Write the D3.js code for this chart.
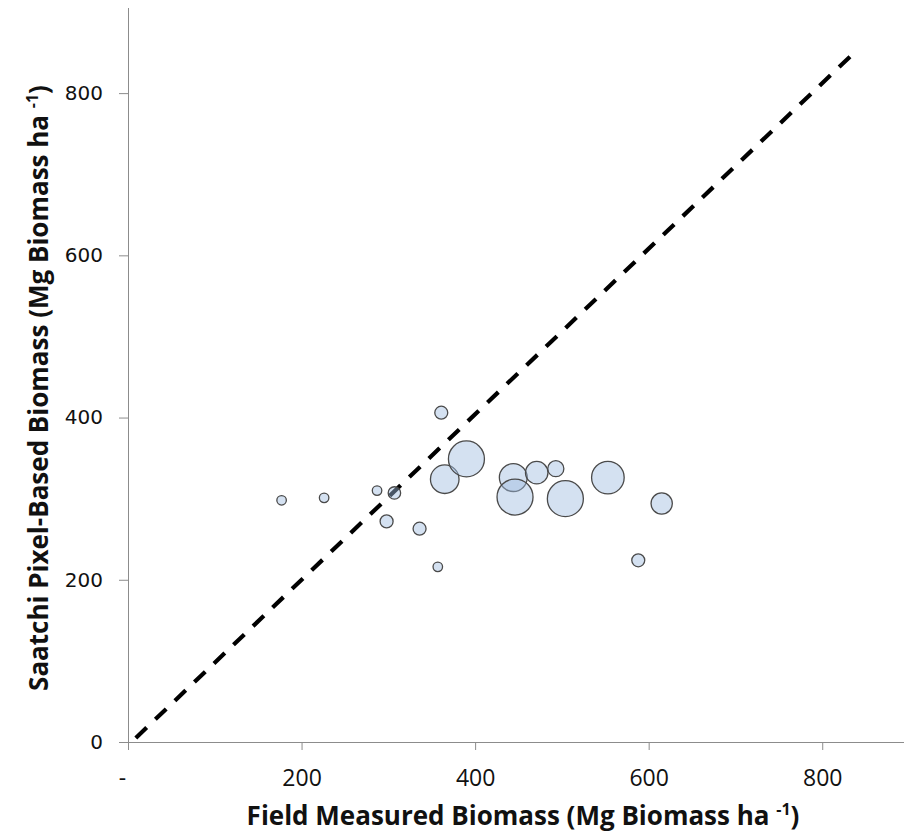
<!DOCTYPE html>
<html>
<head>
<meta charset="utf-8">
<script src="https://cdn.jsdelivr.net/npm/d3@7"></script>
<style>
  body { margin: 0; background: #fff; }
  svg { display: block; }
</style>
</head>
<body>
<script>
// field measured biomass (x), Saatchi pixel biomass (y), bubble size
const fieldBiomass = [177, 226, 287, 307, 298, 336, 357, 361, 365, 390, 444, 446, 471, 493, 504, 553, 615, 588];
const pixelBiomass = [298, 301, 310, 307, 272, 263, 216, 406, 324, 349, 326, 302, 332, 337, 300, 326, 294, 224];
const bubbleSize   = [7, 7, 7, 12, 13, 13, 7, 13, 63, 100, 60, 100, 39, 20, 100, 82, 35, 13];

const xTicks = [0, 200, 400, 600, 800];
const xTickLabels = ["-", "200", "400", "600", "800"];
const yTicks = [0, 200, 400, 600, 800];

// 1:1 reference line ends
const refX = [9, 835];
const refY = [5, 848];

const width = 904, height = 834;

const x = d3.scaleLinear().domain([0, 900]).range([128, 909]);
const y = d3.scaleLinear().domain([0, 900]).range([742, 12]);
const r = d3.scaleSqrt().domain([0, 100]).range([0, 18]);

const svg = d3.select("body").append("svg")
  .attr("width", width)
  .attr("height", height);

const axisColor = "#8c8c8c";

// x axis
const gx = svg.append("g")
  .attr("transform", `translate(0,${y(0)})`)
  .call(d3.axisBottom(x).tickValues(xTicks).tickSize(8).tickSizeOuter(0)
    .tickFormat((d, i) => xTickLabels[i]));
gx.select(".domain").attr("stroke", axisColor).attr("d", `M${x(0) - 9},0.5H${width}`);
gx.selectAll(".tick line").attr("stroke", axisColor);
gx.selectAll(".tick text")
  .attr("y", 44)
  .attr("dy", 0)
  .attr("fill", "#111")
  .style("font-family", "'Open Sans', sans-serif")
  .style("font-size", "23px")
  .attr("dx", d => d === 0 ? -6 : 0);

// y axis
const gy = svg.append("g")
  .attr("transform", `translate(${x(0)},0)`)
  .call(d3.axisLeft(y).tickValues(yTicks).tickSize(9).tickSizeOuter(0));
gy.select(".domain").attr("stroke", axisColor).attr("d", `M0.5,${y(0) + 8}V${y(900) - 4}`);
gy.selectAll(".tick line").attr("stroke", axisColor);
gy.selectAll(".tick text")
  .attr("x", -25)
  .attr("fill", "#111")
  .style("font-family", "'DejaVu Sans', sans-serif")
  .style("font-size", "20px");

// dashed 1:1 line
svg.append("line")
  .attr("x1", x(refX[0])).attr("y1", y(refY[0]))
  .attr("x2", x(refX[1])).attr("y2", y(refY[1]))
  .attr("stroke", "#000")
  .attr("stroke-width", 4.2)
  .attr("stroke-dasharray", "15,12");

// bubbles
const points = fieldBiomass.map((d, i) => ({ fx: d, py: pixelBiomass[i], size: bubbleSize[i] }));

svg.append("g")
  .selectAll("circle")
  .data(points)
  .join("circle")
  .attr("cx", d => x(d.fx))
  .attr("cy", d => y(d.py))
  .attr("r", d => r(d.size))
  .attr("fill", "rgba(160,188,224,0.45)")
  .attr("stroke", "#4a4a4a")
  .attr("stroke-width", 1.3);

// axis titles
function addTitle(sel, label) {
  sel.attr("text-anchor", "middle")
    .style("font-family", "'Open Sans', sans-serif")
    .style("font-weight", "bold")
    .style("font-size", "26px")
    .attr("fill", "#111");
  sel.append("tspan").text(label);
  sel.append("tspan").attr("dy", -10).style("font-size", "16px").text("-1");
  sel.append("tspan").attr("dy", 10).text(")");
}

addTitle(svg.append("text").attr("x", 523).attr("y", 825),
  "Field Measured Biomass (Mg Biomass ha ");

addTitle(svg.append("text").attr("transform", "translate(48,388) rotate(-90)"),
  "Saatchi Pixel-Based Biomass (Mg Biomass ha ");
</script>
</body>
</html>
